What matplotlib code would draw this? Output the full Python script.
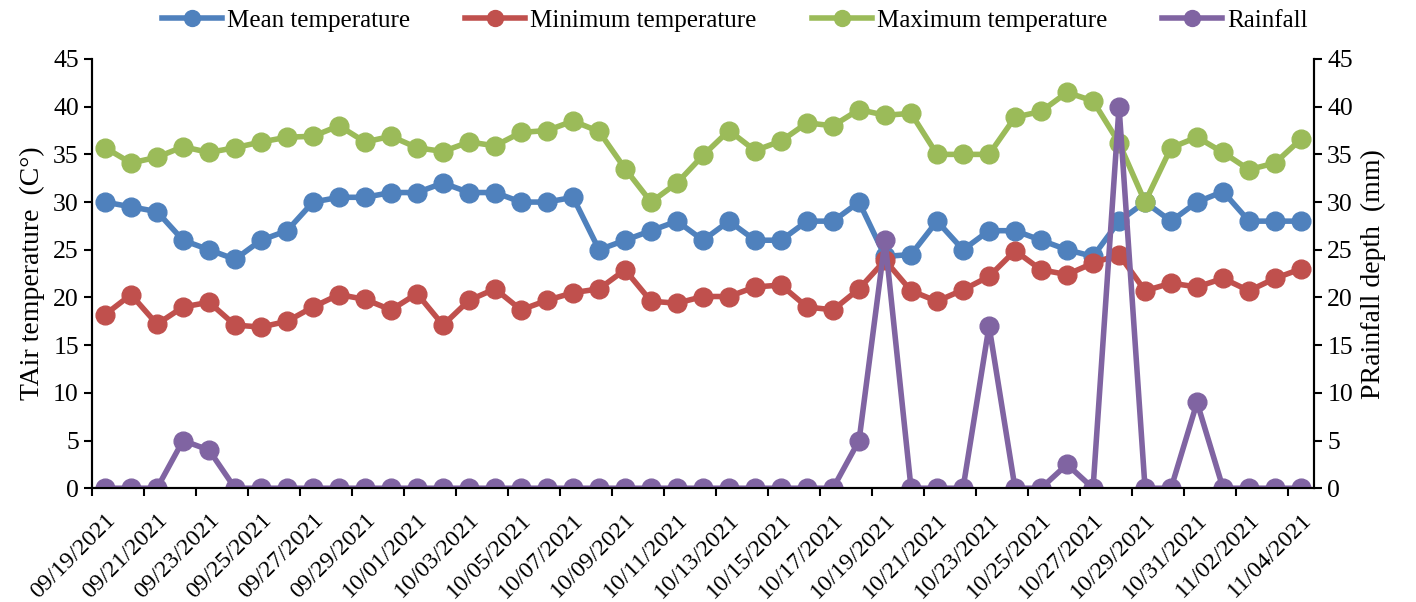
import matplotlib.pyplot as plt
import numpy as np
import pandas as pd

plt.rcParams['font.family'] = ['Liberation Serif', 'DejaVu Serif']

dates = pd.date_range("2021-09-19", "2021-11-04", freq="D")

mean_temp = [30.0, 29.5, 29.0, 26.0, 25.0, 24.0, 26.0, 27.0, 30.0, 30.5,
             30.5, 31.0, 31.0, 32.0, 31.0, 31.0, 30.0, 30.0, 30.5, 25.0,
             26.0, 27.0, 28.0, 26.0, 28.0, 26.0, 26.0, 28.0, 28.0, 30.0,
             24.3, 24.5, 28.0, 25.0, 27.0, 27.0, 26.0, 25.0, 24.3, 28.0,
             30.0, 28.0, 30.0, 31.1, 28.0, 28.0, 28.0]
min_temp = [18.2, 20.3, 17.2, 19.0, 19.5, 17.1, 16.9, 17.5, 19.0, 20.3,
            19.8, 18.7, 20.4, 17.1, 19.7, 20.9, 18.7, 19.7, 20.5, 20.9,
            22.9, 19.6, 19.4, 20.1, 20.1, 21.1, 21.3, 19.0, 18.7, 20.9,
            23.9, 20.7, 19.6, 20.8, 22.2, 24.9, 22.9, 22.4, 23.6, 24.5,
            20.7, 21.5, 21.1, 22.0, 20.7, 22.0, 23.0]
max_temp = [35.7, 34.1, 34.7, 35.8, 35.2, 35.7, 36.3, 36.8, 36.9, 38.0,
            36.3, 36.9, 35.7, 35.3, 36.3, 35.9, 37.3, 37.5, 38.5, 37.4,
            33.5, 30.0, 32.0, 34.9, 37.5, 35.4, 36.4, 38.3, 38.0, 39.7,
            39.1, 39.3, 35.0, 35.0, 35.0, 38.9, 39.5, 41.5, 40.6, 36.2,
            30.0, 35.7, 36.8, 35.2, 33.4, 34.1, 36.6]
rainfall = [0, 0, 0, 5, 4, 0, 0, 0, 0, 0,
            0, 0, 0, 0, 0, 0, 0, 0, 0, 0,
            0, 0, 0, 0, 0, 0, 0, 0, 0, 5,
            26, 0, 0, 0, 17, 0, 0, 2.5, 0, 40,
            0, 0, 9, 0, 0, 0, 0]

colors = {"mean": "#4F81BD", "min": "#C0504D", "max": "#9BBB59", "rain": "#8064A2"}
x = np.arange(len(dates))
tick_labels = [d.strftime("%m/%d/%Y") for d in dates]

fig = plt.figure(figsize=(14.16, 6.02), dpi=100)
ax = fig.add_axes([0.065, 0.189, 0.863, 0.713])
ax2 = ax.twinx()

style = dict(marker='o', markersize=13.5, linewidth=4)
l1, = ax.plot(x, mean_temp, color=colors["mean"], label="Mean temperature", **style)
l2, = ax.plot(x, min_temp, color=colors["min"], label="Minimum temperature", **style)
l3, = ax.plot(x, max_temp, color=colors["max"], label="Maximum temperature", **style)
l4, = ax2.plot(x, rainfall, color=colors["rain"], label="Rainfall", **style)

for a in (ax, ax2):
    a.set_ylim(0, 45)
    a.set_yticks(np.arange(0, 46, 5))
    a.set_xlim(-0.5, len(x) - 0.5)
    a.spines['top'].set_visible(False)
    for s in a.spines.values():
        s.set_linewidth(1.5)
    a.tick_params(axis='y', labelsize=18.5, width=1.5, length=6)

ax.set_xticks(x[::2])
ax.set_xticklabels(tick_labels[::2], rotation=45, ha='right',
                   rotation_mode='anchor', fontsize=17.5)
ax.set_xticks(np.arange(-0.5, len(x), 2), minor=True)
ax.tick_params(axis='x', which='major', length=0, pad=15)
ax.tick_params(axis='x', which='minor', length=6, width=1.5)

ax.set_ylabel("TAir temperature  (C°)", fontsize=20, labelpad=6)
ax2.set_ylabel("PRainfall depth  (mm)", fontsize=20, labelpad=6)

fig.legend(handles=[l1, l2, l3, l4], loc='center', bbox_to_anchor=(0.519, 0.966),
           ncol=4, frameon=False, fontsize=18, handlelength=2.4,
           handletextpad=0.2, columnspacing=2.2, markerscale=0.85)

fig.savefig("out.png", dpi=100)
